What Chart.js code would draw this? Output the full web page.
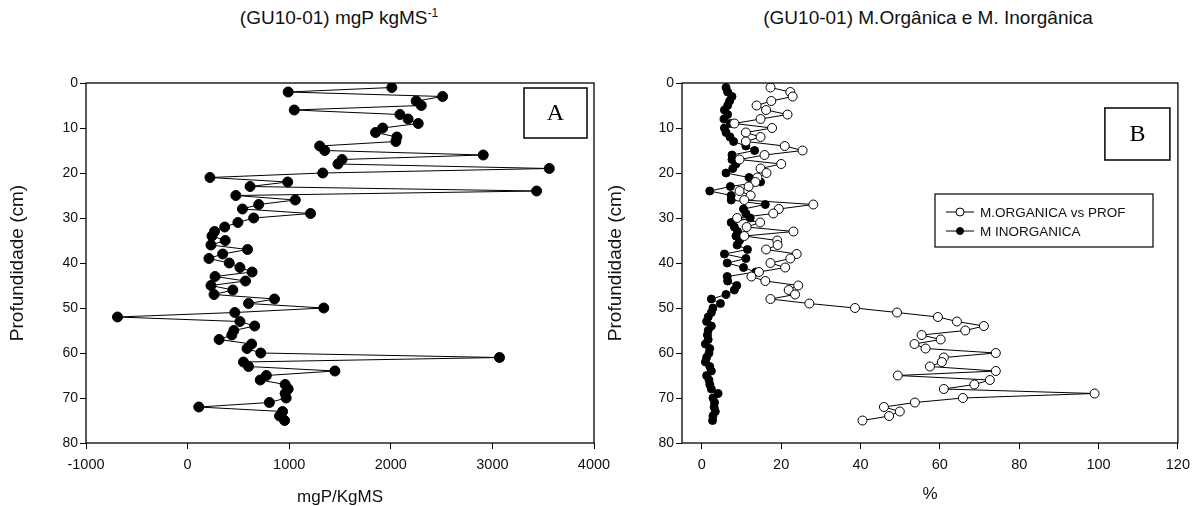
<!DOCTYPE html>
<html>
<head>
<meta charset="utf-8">
<script src="https://cdn.jsdelivr.net/npm/chart.js@4.4.1/dist/chart.umd.min.js"></script>
<style>
  body { margin: 0; background: #fff; width: 1197px; height: 506px; overflow: hidden; position: relative; font-family: "Liberation Sans", Arial, sans-serif; }
  .titulo { position: absolute; top: 7px; font-size: 19px; color: #111; white-space: nowrap; transform: translateX(-50%); }
  .titulo sup { font-size: 12px; vertical-align: 7px; line-height: 0; }
  #graficoA { position: absolute; left: 0; top: 0; }
  #graficoB { position: absolute; left: 598px; top: 0; }
</style>
</head>
<body>
<div class="titulo" style="left:339px">(GU10-01) mgP kgMS<sup>-1</sup></div>
<div class="titulo" style="left:928px">(GU10-01) M.Orgânica e M. Inorgânica</div>
<canvas id="graficoA" width="640" height="506"></canvas>
<canvas id="graficoB" width="599" height="506"></canvas>
<script>
// Profundidade de cada amostra (cm)
const profundidade = [1, 2, 3, 4, 5, 6, 7, 8, 9, 10, 11, 12, 13, 14, 15, 16, 17, 18, 19, 20,
  21, 22, 23, 24, 25, 26, 27, 28, 29, 30, 31, 32, 33, 34, 35, 36, 37, 38, 39, 40,
  41, 42, 43, 44, 45, 46, 47, 48, 49, 50, 51, 52, 53, 54, 55, 56, 57, 58, 59, 60,
  61, 62, 63, 64, 65, 66, 67, 68, 69, 70, 71, 72, 73, 74, 75];

// Gráfico A: fósforo em mgP/KgMS
const fosforo = [2010, 990, 2510, 2250, 2300, 1050, 2090, 2170, 2270, 1920,
  1850, 2060, 2050, 1300, 1350, 2910, 1520, 1480, 3560, 1330,
  220, 985, 615, 3435, 475, 1060, 700, 540, 1210, 650,
  495, 365, 265, 240, 370, 230, 590, 345, 210, 410,
  515, 635, 270, 570, 230, 445, 260, 855, 600, 1340,
  465, -690, 515, 660, 455, 435, 310, 630, 585, 720,
  3070, 550, 600, 1450, 775, 715, 960, 990, 960, 970,
  805, 110, 935, 905, 955];

// Gráfico B: matéria orgânica e inorgânica em %
const materiaOrganica = [17.3, 22.3, 22.9, 17.5, 13.8, 16.2, 21.6, 14.8, 8.2, 17.7,
  11.1, 14.8, 11.1, 20.9, 25.4, 15.8, 9.5, 20.0, 14.8, 16.3,
  14.0, 13.5, 11.8, 9.5, 12.3, 10.7, 28.1, 19.4, 18.0, 8.9,
  14.7, 11.3, 23.1, 10.7, 19.0, 19.1, 16.2, 23.9, 22.3, 17.3,
  21.0, 14.4, 12.5, 16.0, 24.3, 21.9, 23.5, 17.3, 27.1, 38.6,
  49.2, 59.5, 64.3, 71.1, 66.4, 55.4, 60.2, 53.6, 56.4, 74.1,
  61.0, 60.5, 57.5, 74.1, 49.4, 72.6, 68.7, 61.0, 99.0, 65.8,
  53.7, 45.9, 49.9, 47.2, 40.5];
const materiaInorganica = [6.1, 6.5, 7.6, 7.0, 6.5, 5.7, 6.5, 5.6, 7.2, 5.7,
  6.1, 7.1, 8.0, 11.1, 13.3, 7.6, 7.6, 8.6, 7.8, 6.1,
  11.9, 14.8, 7.2, 2.0, 7.4, 7.4, 16.0, 10.5, 11.1, 12.2,
  7.4, 8.2, 9.0, 8.6, 9.5, 8.9, 11.5, 5.7, 11.1, 6.4,
  10.5, 13.6, 6.4, 6.5, 8.8, 8.2, 6.1, 2.4, 4.7, 2.8,
  2.4, 1.6, 1.2, 2.4, 1.6, 1.4, 1.6, 0.9, 2.0, 1.8,
  1.2, 0.9, 2.0, 2.4, 1.2, 1.8, 2.0, 2.4, 4.1, 2.8,
  3.2, 3.1, 3.4, 2.8, 2.7];

// Marcas dos eixos
const ticksY = [0, 10, 20, 30, 40, 50, 60, 70, 80];
const ticksXA = [-1000, 0, 1000, 2000, 3000, 4000];
const ticksXB = [0, 20, 40, 60, 80, 100, 120];

const fonte = '"Liberation Sans", Arial, sans-serif';
const corTexto = '#111';

function pares(valores) {
  return valores.map((v, i) => ({x: v, y: profundidade[i]}));
}

// Moldura em volta da área do gráfico e caixa com a letra (A ou B)
const moldura = {
  id: 'moldura',
  afterDraw(chart, args, opts) {
    const {ctx, chartArea: a} = chart;
    ctx.save();
    ctx.strokeStyle = '#000';
    ctx.lineWidth = 1.3;
    ctx.strokeRect(a.left, a.top, a.right - a.left, a.bottom - a.top);
    const bx = a.right - opts.direita - opts.largura;
    const by = a.top + opts.topo;
    ctx.lineWidth = 1.5;
    ctx.strokeRect(bx, by, opts.largura, opts.altura);
    ctx.fillStyle = '#000';
    ctx.font = '24px "Liberation Serif", "Times New Roman", serif';
    ctx.textAlign = 'center';
    ctx.textBaseline = 'middle';
    ctx.fillText(opts.letra, bx + opts.largura / 2, by + opts.altura / 2 + 1);
    ctx.restore();
  }
};

// Legenda desenhada dentro do gráfico B
const legendaInterna = {
  id: 'legendaInterna',
  afterDraw(chart, args, opts) {
    if (!opts.mostrar) return;
    const {ctx} = chart;
    ctx.save();
    ctx.strokeStyle = '#000';
    ctx.lineWidth = 1.2;
    ctx.strokeRect(opts.x, opts.y, opts.largura, opts.altura);
    ctx.font = '13.5px ' + fonte;
    ctx.textBaseline = 'middle';
    chart.data.datasets.forEach((ds, i) => {
      const ly = opts.y + 18 + i * 19;
      ctx.beginPath();
      ctx.lineWidth = 1;
      ctx.moveTo(opts.x + 11, ly);
      ctx.lineTo(opts.x + 39, ly);
      ctx.stroke();
      ctx.beginPath();
      ctx.arc(opts.x + 25, ly, i === 0 ? 4 : 3.5, 0, Math.PI * 2);
      ctx.fillStyle = ds.pointBackgroundColor;
      ctx.fill();
      ctx.stroke();
      ctx.fillStyle = corTexto;
      ctx.fillText(ds.label, opts.x + 45, ly + 1);
    });
    ctx.restore();
  }
};

function eixoX(marcas, min, max, titulo, margemTitulo) {
  return {
    type: 'linear', min: min, max: max,
    afterBuildTicks: s => { s.ticks = marcas.map(v => ({value: v})); },
    grid: {drawOnChartArea: false, drawTicks: true, tickLength: 6, color: '#000'},
    border: {display: false},
    ticks: {color: corTexto, font: {family: fonte, size: 14.5}, padding: 7, maxRotation: 0, callback: v => String(v)},
    title: {display: true, text: titulo, color: corTexto, font: {family: fonte, size: 17, lineHeight: 1}, padding: {top: 0, bottom: margemTitulo}},
    afterFit: s => { s.height = 63; }
  };
}

function eixoY(largura) {
  return {
    type: 'linear', reverse: true, min: 0, max: 80,
    afterBuildTicks: s => { s.ticks = ticksY.map(v => ({value: v})); },
    grid: {drawOnChartArea: false, drawTicks: true, tickLength: 6, color: '#000'},
    border: {display: false},
    ticks: {color: corTexto, font: {family: fonte, size: 14}, padding: 2, callback: v => String(v)},
    title: {display: true, text: 'Profundidade (cm)', color: corTexto, font: {family: fonte, size: 19, lineHeight: 1}, padding: {top: 8, bottom: 0}},
    afterFit: s => { s.width = largura; }
  };
}

new Chart(document.getElementById('graficoA'), {
  type: 'scatter',
  data: {
    datasets: [{
      label: 'mgP/KgMS',
      data: pares(fosforo),
      showLine: true,
      borderColor: '#000',
      borderWidth: 1,
      pointRadius: 5,
      pointBackgroundColor: '#000',
      pointBorderColor: '#000',
      pointBorderWidth: 1
    }]
  },
  options: {
    responsive: false,
    animation: false,
    layout: {padding: {top: 83, right: 46, left: 0, bottom: 0}},
    plugins: {
      legend: {display: false},
      tooltip: {enabled: false},
      moldura: {letra: 'A', direita: 7, topo: 5, largura: 63, altura: 50},
      legendaInterna: {mostrar: false}
    },
    scales: {
      x: eixoX(ticksXA, -1000, 4000, 'mgP/KgMS', 0),
      y: eixoY(86)
    }
  },
  plugins: [moldura, legendaInterna]
});

new Chart(document.getElementById('graficoB'), {
  type: 'scatter',
  data: {
    datasets: [{
      label: 'M.ORGANICA vs PROF',
      data: pares(materiaOrganica),
      showLine: true,
      borderColor: '#000',
      borderWidth: 1,
      pointRadius: 4.5,
      pointBackgroundColor: '#fff',
      pointBorderColor: '#000',
      pointBorderWidth: 1
    }, {
      label: 'M INORGANICA',
      data: pares(materiaInorganica),
      showLine: true,
      borderColor: '#000',
      borderWidth: 1,
      pointRadius: 4,
      pointBackgroundColor: '#000',
      pointBorderColor: '#000',
      pointBorderWidth: 1
    }]
  },
  options: {
    responsive: false,
    animation: false,
    layout: {padding: {top: 83, right: 12, left: 0, bottom: 0}},
    plugins: {
      legend: {display: false},
      tooltip: {enabled: false},
      moldura: {letra: 'B', direita: 8, topo: 25, largura: 65, altura: 52},
      legendaInterna: {mostrar: true, x: 337, y: 194, largura: 218, altura: 53}
    },
    scales: {
      x: eixoX(ticksXB, -5, 120, '%', 3),
      y: eixoY(84)
    }
  },
  plugins: [moldura, legendaInterna]
});
</script>
</body>
</html>
